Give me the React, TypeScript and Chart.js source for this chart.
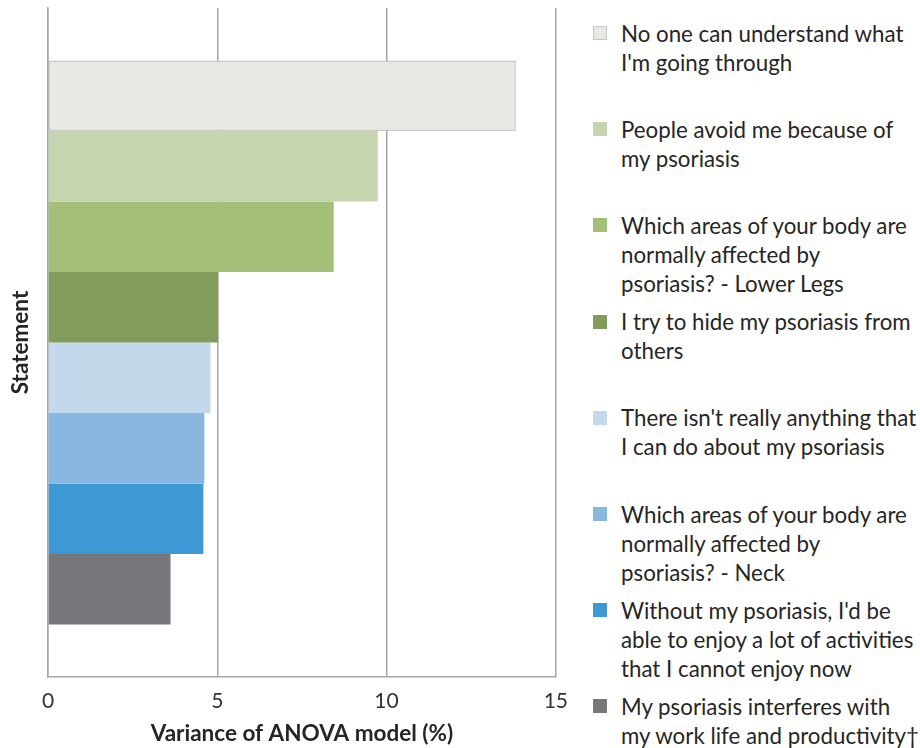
import React, { useEffect, useRef } from "react";
import { Chart, registerables } from "chart.js";

Chart.register(...registerables);

const categories = ["Statement"];
const seriesLabels: string[][] = [
  ["No one can understand what", "I'm going through"],
  ["People avoid me because of", "my psoriasis"],
  ["Which areas of your body are", "normally affected by", "psoriasis? - Lower Legs"],
  ["I try to hide my psoriasis from", "others"],
  ["There isn't really anything that", "I can do about my psoriasis"],
  ["Which areas of your body are", "normally affected by", "psoriasis? - Neck"],
  ["Without my psoriasis, I'd be", "able to enjoy a lot of activities", "that I cannot enjoy now"],
  ["My psoriasis interferes with", "my work life and productivity\u2020"],
];
const seriesValues = [13.82, 9.74, 8.44, 5.03, 4.8, 4.62, 4.59, 3.62];
const seriesColors = ["#e7eae2", "#c5d5b0", "#a3bf78", "#829c5c", "#c3d8eb", "#88b8e0", "#3d98d3", "#77787b"];
const xTicks = [0, 5, 10, 15];

const FONT = "Lato, 'Open Sans', sans-serif";

export default function App() {
  const ref = useRef<HTMLCanvasElement | null>(null);

  useEffect(() => {
    document.body.style.margin = "0";
    if (!ref.current) return;
    const chart = new Chart(ref.current, {
      type: "bar",
      data: {
        labels: categories,
        datasets: seriesValues.map((v, i) => ({
          label: seriesLabels[i].join(" "),
          data: [v],
          backgroundColor: seriesColors[i],
          borderColor: i === 0 ? "#c8c8c8" : seriesColors[i],
          borderWidth: i === 0 ? 1.5 : 0,
          borderSkipped: false,
          categoryPercentage: 0.843,
          barPercentage: 1,
        })),
      },
      options: {
        indexAxis: "y",
        animation: false,
        responsive: false,
        maintainAspectRatio: false,
        layout: { padding: { top: 8, right: 22, left: 0, bottom: 0 } },
        plugins: {
          legend: { display: false },
          tooltip: { enabled: false },
        },
        scales: {
          x: {
            min: 0,
            max: 15,
            afterBuildTicks: (scale: any) => {
              scale.ticks = xTicks.map((v) => ({ value: v }));
            },
            afterFit: (scale: any) => {
              scale.height = 71;
            },
            grid: { color: "#a6a6a6", lineWidth: 1.5, drawTicks: false },
            border: { display: true, color: "#a6a6a6", width: 1.5 },
            ticks: {
              padding: 12,
              color: "#333333",
              font: { family: FONT, size: 21 },
            },
            title: {
              display: true,
              text: "Variance of ANOVA model (%)",
              color: "#262626",
              font: { family: FONT, size: 22.5, weight: "bold" },
              padding: { top: 0, bottom: 1 },
            },
          },
          y: {
            afterFit: (scale: any) => {
              scale.width = 48;
            },
            grid: { display: false, drawTicks: false },
            border: { display: true, color: "#a6a6a6", width: 1.5 },
            ticks: { display: false },
            title: {
              display: true,
              text: "Statement",
              color: "#262626",
              font: { family: FONT, size: 22.5, weight: "bold" },
              padding: { top: 7.5, bottom: 0 },
            },
          },
        },
      },
    });
    return () => chart.destroy();
  }, []);

  return (
    <div style={{ position: "absolute", left: 0, top: 0, width: 920, height: 748, background: "#fff", overflow: "hidden" }}>
      <canvas ref={ref} width={580} height={748} style={{ position: "absolute", left: 0, top: 0, width: 580, height: 748 }} />
      {seriesLabels.map((lines, i) => {
        const top = 18.5 + i * 96.2;
        return (
          <div key={i} style={{ position: "absolute", left: 0, top, width: 920 }}>
            <div
              style={{
                position: "absolute",
                left: 593,
                top: 7.5,
                width: 14,
                height: 14,
                boxSizing: "border-box",
                background: seriesColors[i],
                border: i === 0 ? "1.5px solid #c8c8c8" : "none",
              }}
            />
            <div
              style={{
                position: "absolute",
                left: 621,
                top: 0,
                whiteSpace: "nowrap",
                fontFamily: FONT,
                fontSize: 22.3,
                lineHeight: "29px",
                color: "#262626",
              }}
            >
              {lines.map((l, j) => (
                <div key={j}>{l}</div>
              ))}
            </div>
          </div>
        );
      })}
    </div>
  );
}
